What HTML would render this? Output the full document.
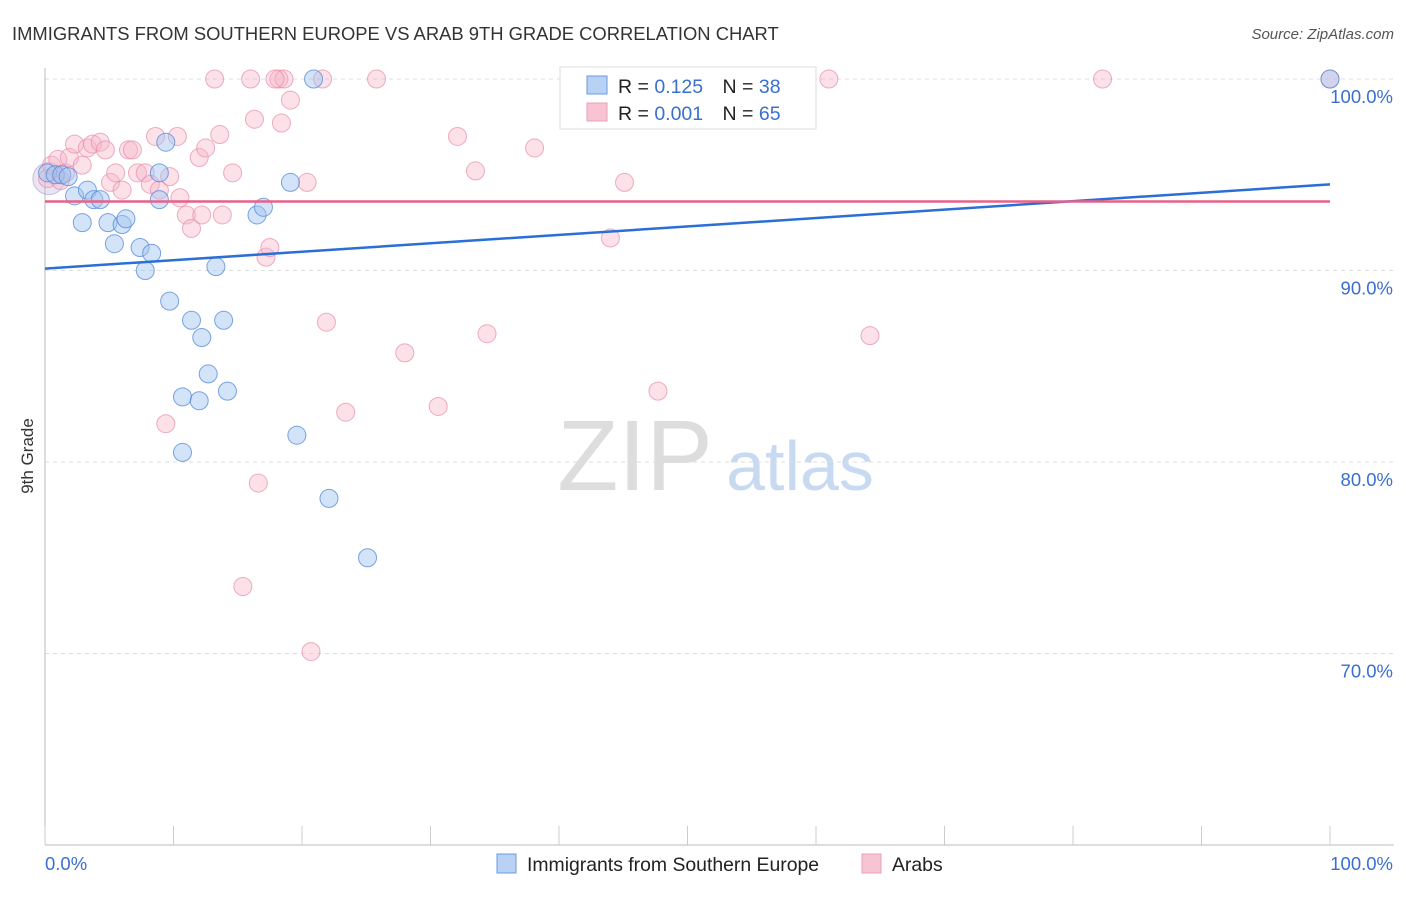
<!DOCTYPE html>
<html><head><meta charset="utf-8"><style>
body{margin:0;background:#fff;font-family:"Liberation Sans",sans-serif;}
svg text{font-family:"Liberation Sans",sans-serif;}
</style></head><body>
<svg id="chart" width="1406" height="892" xmlns="http://www.w3.org/2000/svg">
<text x="12" y="40" font-size="18.4" fill="#333">IMMIGRANTS FROM SOUTHERN EUROPE VS ARAB 9TH GRADE CORRELATION CHART</text>
<text x="1394" y="39" font-size="15" fill="#555" text-anchor="end" font-style="italic">Source: ZipAtlas.com</text>
<text transform="translate(33,456) rotate(-90)" font-size="17" fill="#333" text-anchor="middle">9th Grade</text>
<g>
<text x="635" y="490" font-size="100" fill="#ddd" text-anchor="middle" font-family="Liberation Serif">ZIP</text>
<text x="800" y="490" font-size="70" fill="#c8daf2" text-anchor="middle">atlas</text>
</g>
<g id="grid"></g><g id="axes"></g><g id="pts"></g><g id="lines"></g>
<g>
<rect x="560" y="67" width="256" height="62" fill="#fff" stroke="#ddd"/>
<rect x="587" y="76" width="20" height="18" fill="#b8d2f5" stroke="#6a9ade"/>
<rect x="587" y="103" width="20" height="18" fill="#f9c4d2" stroke="#e8a0b8"/>
<text x="618" y="93" font-size="19.5" fill="#222">R = <tspan fill="#3a6fd0">0.125</tspan>  <tspan dx="14">N = </tspan><tspan fill="#3a6fd0">38</tspan></text>
<text x="618" y="120" font-size="19.5" fill="#222">R = <tspan fill="#3a6fd0">0.001</tspan>  <tspan dx="14">N = </tspan><tspan fill="#3a6fd0">65</tspan></text>
</g>
<g>
<rect x="497" y="854" width="19" height="19" fill="#b8d2f5" stroke="#6a9ade"/>
<text x="527" y="871" font-size="19.4" fill="#222">Immigrants from Southern Europe</text>
<rect x="862" y="854" width="19" height="19" fill="#f9c4d2" stroke="#e8a0b8"/>
<text x="892" y="871" font-size="19.4" fill="#222">Arabs</text>
</g>
</svg>
<script>
const blueX=[0.2,0.8,1.3,1.8,2.3,2.9,3.3,3.8,4.3,4.9,5.4,6.0,6.3,7.4,7.8,8.3,8.9,8.9,9.4,9.7,10.7,10.7,11.4,12.0,12.2,12.7,13.3,13.9,14.2,16.5,17.0,19.1,19.6,20.9,22.1,25.1,44.8,100];
const blueY=[95.1,95.0,95.0,94.9,93.9,92.5,94.2,93.7,93.7,92.5,91.4,92.4,92.7,91.2,90.0,90.9,95.1,93.7,96.7,88.4,83.4,80.5,87.4,83.2,86.5,84.6,90.2,87.4,83.7,92.9,93.3,94.6,81.4,100,78.1,75.0,100,100];
const pinkX=[0.2,0.5,1.0,1.6,1.9,2.3,2.9,3.3,3.7,4.3,4.7,5.1,5.5,6.0,6.5,6.8,7.2,7.8,8.2,8.6,8.9,9.4,9.7,10.3,10.5,11.0,11.4,12.0,12.2,12.5,13.2,13.6,13.8,14.6,15.4,16.0,16.3,16.6,17.2,17.5,18.2,18.4,18.6,19.1,20.4,20.7,21.6,21.9,23.4,25.8,28.0,30.6,32.1,33.5,34.4,38.1,44.0,45.1,47.1,47.7,61.0,64.2,82.3,100,1.2,17.9];
const pinkY=[94.8,95.5,95.8,95.1,95.9,96.6,95.5,96.4,96.6,96.7,96.3,94.6,95.1,94.2,96.3,96.3,95.1,95.1,94.5,97.0,94.2,82.0,94.9,97.0,93.8,92.9,92.2,95.9,92.9,96.4,100,97.1,92.9,95.1,73.5,100,97.9,78.9,90.7,91.2,100,97.7,100,98.9,94.6,70.1,100,87.3,82.6,100,85.7,82.9,97.0,95.2,86.7,96.4,91.7,94.6,100,83.7,100,86.6,100,100,94.7,100];
const blueTrend=[90.1,94.5];
const pinkTrend=[93.6,93.6];
const yTicks=[100,90,80,70];
const yTickLabels=["100.0%","90.0%","80.0%","70.0%"];
const NS="http://www.w3.org/2000/svg";
const X0=45,X1=1330,YB=845,YT=79;
const sx=v=>X0+(X1-X0)*v/100;
const sy=v=>YB-(YB-YT)*(v-60)/40;
function mk(t,a,p){const e=document.createElementNS(NS,t);for(const k in a)e.setAttribute(k,a[k]);p.appendChild(e);return e;}
const grid=document.getElementById('grid'),axes=document.getElementById('axes'),pts=document.getElementById('pts'),lines=document.getElementById('lines');
yTicks.forEach((t,i)=>{
 const l=mk('line',{x1:45,x2:1394,y1:sy(t),y2:sy(t),stroke:'#ddd','stroke-dasharray':'4,4'},grid);
 
 
 const tx=mk('text',{x:1393,y:sy(t)+24,'font-size':18.5,fill:'#3a6fd0','text-anchor':'end'},axes);
 tx.textContent=yTickLabels[i];
 
 
});
const ya=mk('line',{x1:45,x2:45,y1:68,y2:845,stroke:'#bbb'},axes);


const xa=mk('line',{x1:45,x2:1394,y1:845,y2:845,stroke:'#bbb'},axes);


for(let i=0;i<=10;i++){
 const tk=mk('line',{x1:sx(i*10),x2:sx(i*10),y1:826,y2:845,stroke:'#ccc'},axes);
 
 
}
const xl0=mk('text',{x:45,y:870,'font-size':18.5,fill:'#3a6fd0'},axes);xl0.textContent='0.0%';


const xl1=mk('text',{x:1393,y:870,'font-size':18.5,fill:'#3a6fd0','text-anchor':'end'},axes);xl1.textContent='100.0%';


const big=mk('circle',{cx:sx(0.3),cy:sy(94.8),r:16,fill:'rgba(190,170,215,0.3)',stroke:'rgba(150,140,210,0.5)'},pts);


pinkX.forEach((x,i)=>{
 const c=mk('circle',{cx:sx(x),cy:sy(pinkY[i]),r:9,fill:'rgba(248,180,200,0.4)',stroke:'rgba(230,140,170,0.7)'},pts);
 
 
});
blueX.forEach((x,i)=>{
 const c=mk('circle',{cx:sx(x),cy:sy(blueY[i]),r:9,fill:'rgba(160,196,240,0.45)',stroke:'rgba(80,135,215,0.75)'},pts);
 
 
});
const bl=mk('line',{x1:sx(0),x2:sx(100),y1:sy(blueTrend[0]),y2:sy(blueTrend[1]),stroke:'#2a6fd6','stroke-width':2.5},lines);


const pl=mk('line',{x1:sx(0),x2:sx(100),y1:sy(pinkTrend[0]),y2:sy(pinkTrend[1]),stroke:'#e8608a','stroke-width':2.5},lines);


</script>
</body></html>
